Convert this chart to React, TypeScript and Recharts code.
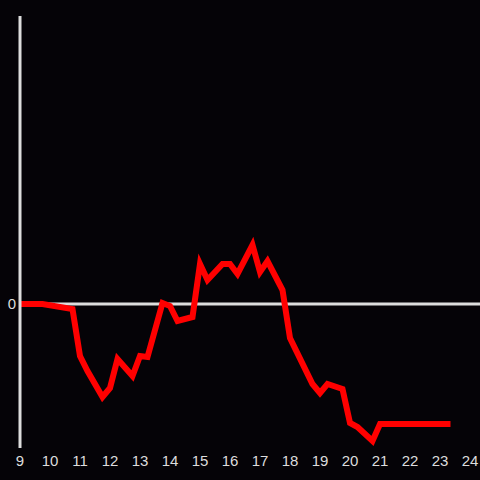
import React from "react";
import {
  LineChart,
  Line,
  XAxis,
  YAxis,
  ReferenceLine,
} from "recharts";

// hour of day (15 min steps) and the value at that time
const hours = [
  9, 9.75, 10.75, 11, 11.25, 11.75, 12, 12.25, 12.75, 13, 13.25, 13.75, 14,
  14.25, 14.75, 15, 15.25, 15.75, 16, 16.25, 16.75, 17, 17.25, 17.75, 18,
  18.75, 19, 19.25, 19.75, 20, 20.25, 20.75, 21, 23.25,
];
const values = [
  0, 0, -5, -52, -67, -93, -84, -55, -72, -52, -53, 1, -2, -17, -13, 40, 24,
  40, 40, 30, 59, 32, 43, 14, -34, -80, -89, -80, -85, -119, -123, -137, -120,
  -120,
];
const xTicks = [9, 10, 11, 12, 13, 14, 15, 16, 17, 18, 19, 20, 21, 22, 23, 24];
const yTicks = [0];

const data = hours.map((h, i) => ({ hour: h, value: values[i] }));

const tickStyle = { fontSize: 15, fill: "#dddddd", fontFamily: "'Liberation Sans', Arial, sans-serif" };

export default function App() {
  return (
    <div
      style={{
        position: "fixed",
        left: 0,
        top: 0,
        width: 480,
        height: 480,
        background: "#050307",
        fontFamily: "'Liberation Sans', Arial, sans-serif",
      }}
    >
      <LineChart
        width={480}
        height={480}
        data={data}
        margin={{ top: 16, right: 0, bottom: 2, left: 0 }}
      >
        <XAxis
          dataKey="hour"
          type="number"
          domain={[9, 24 + 1 / 3]}
          ticks={xTicks}
          axisLine={false}
          tickLine={false}
          tickSize={0}
          tickMargin={7}
          height={30}
          tick={tickStyle}
          allowDataOverflow
        />
        <YAxis
          domain={[-144, 288]}
          ticks={yTicks}
          width={20}
          axisLine={{ stroke: "#dddddd", strokeWidth: 3 }}
          tickLine={false}
          tickSize={0}
          tickMargin={4}
          tick={tickStyle}
          allowDataOverflow
        />
        <ReferenceLine y={0} stroke="#dddddd" strokeWidth={3} />
        <Line
          dataKey="value"
          stroke="#ff0000"
          strokeWidth={6}
          strokeLinecap="square"
          strokeLinejoin="miter"
          dot={false}
          activeDot={false}
          type="linear"
          isAnimationActive={false}
        />
      </LineChart>
    </div>
  );
}
